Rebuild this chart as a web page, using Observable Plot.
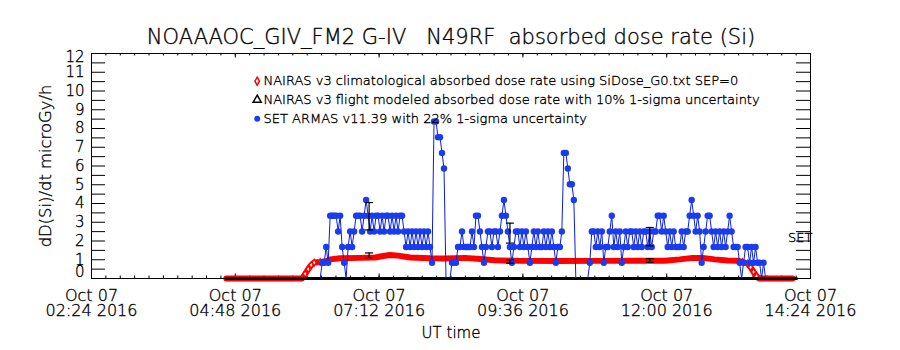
<!DOCTYPE html>
<html><head><meta charset="utf-8">
<script src="https://cdn.jsdelivr.net/npm/d3@7"></script>
<script src="https://cdn.jsdelivr.net/npm/@observablehq/plot@0.6"></script>
<style>
html,body{margin:0;padding:0;background:#fff;}
#chart svg{display:block;}
</style></head><body><div id="chart"></div>
<script>
// ---------- data ----------
const day = "2016-10-07";
const xDomain = ["02:24", "14:24"];
const xTickTimes = ["02:24", "04:48", "07:12", "09:36", "12:00", "14:24"];
const xTickLabels = ["Oct 07\n02:24 2016", "Oct 07\n04:48 2016", "Oct 07\n07:12 2016",
  "Oct 07\n09:36 2016", "Oct 07\n12:00 2016", "Oct 07\n14:24 2016"];
const yTickLabels = [0, 1, 2, 3, 4, 5, 6, 7, 8, 9, 10, 11, 12];

const titleText = "NOAAAOC_GIV_FM2 G-IV\u00a0\u00a0\u00a0N49RF\u00a0\u00a0absorbed dose rate (Si)";
const yLabel = "dD(Si)/dt microGy/h";
const xLabel = "UT time";
const legendLabels = [
  "NAIRAS v3 climatological absorbed dose rate using SiDose_G0.txt SEP=0",
  "NAIRAS v3 flight modeled absorbed dose rate with 10% 1-sigma uncertainty",
  "SET ARMAS v11.39 with 22% 1-sigma uncertainty"
];

// NAIRAS climatological (red)
const nairasTimes = ["04:39","05:55","05:58","06:01","06:04","06:07","06:13","06:19","06:23","06:33",
  "06:53","07:08","07:16","07:23","07:31","07:43","08:03","08:18","08:38","08:53",
  "09:08","09:33","10:13","10:53","11:33","11:58","12:13","12:26","12:36","12:48",
  "13:01","13:11","13:16","13:21","13:24","13:27","13:30","13:33","14:06"];
const nairasValues = [0,0,0.25,0.5,0.72,0.85,0.88,0.92,1.02,1.08,
  1.1,1.12,1.2,1.25,1.22,1.12,1.08,1.07,1.1,1.04,
  0.97,0.94,0.93,0.94,0.95,0.95,1.02,1.1,1.1,1.02,
  0.96,0.95,0.88,0.8,0.6,0.35,0.12,0,0];

// NAIRAS flight modeled (black) baseline
const modelTimes = ["04:39", "14:10"];
const modelValues = [0, 0];

// Error bars
const errTimes = ["07:02", "09:23", "11:43"];
const modelErrCenter = [1.24, 0.91, 0.96];   // 10% 1-sigma
const armasErrCenter = [3.32, 2.42, 2.23];   // 22% 1-sigma

// SET ARMAS (blue), one sample every 2 minutes from 06:13
const armasStart = "06:13";
const armasStepMin = 2;
const armasValues = [
  0,0.84,0.84,1.68,0.84,3.35,3.35,3.35,3.35,2.51,
  3.35,1.68,0.84,0,1.68,2.51,1.68,2.51,3.35,3.35,
  3.35,2.51,3.35,4.19,3.35,2.51,3.35,2.51,3.35,3.35,
  2.51,3.35,2.51,3.35,3.35,2.51,3.35,2.51,3.35,2.51,
  3.35,3.35,2.51,1.68,2.51,1.68,2.51,1.68,2.51,1.68,
  2.51,1.68,2.51,1.68,2.51,1.68,0.84,8.38,8.38,7.54,
  7.54,6.7,5.87,0,0,0,0.84,0.84,0.84,1.68,
  1.68,2.51,1.68,1.68,1.68,1.68,2.51,1.68,3.35,3.35,
  2.51,1.68,0.84,1.68,2.51,2.51,1.68,2.51,2.51,1.68,
  2.51,3.35,4.19,3.35,2.51,1.68,0.84,1.68,2.51,2.51,
  1.68,2.51,1.68,2.51,1.68,0.84,1.68,2.51,1.68,2.51,
  1.68,1.68,2.51,1.68,2.51,1.68,2.51,1.68,0.84,1.68,
  1.68,2.51,6.7,6.7,5.87,5.03,5.03,4.19,0,0,
  0,0,0,0,0,0.84,2.51,2.51,1.68,2.51,
  1.68,2.51,0.84,1.68,1.68,2.51,3.35,1.68,2.51,1.68,
  2.51,0.84,1.68,2.51,1.68,2.51,2.51,1.68,2.51,1.68,
  2.51,1.68,2.51,2.51,1.68,2.51,1.68,2.51,2.51,3.35,
  3.35,2.51,3.35,2.51,1.68,2.51,1.68,2.51,1.68,1.68,
  1.68,2.51,1.68,2.51,2.51,3.35,4.19,3.35,2.51,3.35,
  2.51,0.84,1.68,2.51,3.35,3.35,2.51,1.68,2.51,1.68,
  2.51,1.68,2.51,1.68,2.51,3.35,2.51,1.68,1.68,1.68,
  0.84,0,0.84,1.68,1.68,0.84,1.68,0.84,1.68,0.84,
  0.84,0,0.84,0
];

// ---------- build ----------
const T = s => new Date(`${day}T${s}:00Z`);
const red = nairasTimes.map((t, i) => ({t: T(t), v: nairasValues[i]}));
const model = modelTimes.map((t, i) => ({t: T(t), v: modelValues[i]}));
const t0 = T(armasStart);
const armas = armasValues.map((v, i) => ({t: d3.utcMinute.offset(t0, i * armasStepMin), v}));
const errs = errTimes.map((t, i) => ({t: T(t), a: armasErrCenter[i], m: modelErrCenter[i]}));
const bars = [
  ...errs.map(d => ({t: d.t, lo: d.a * 0.78, hi: d.a * 1.22})),
  ...errs.map(d => ({t: d.t, lo: d.m * 0.9, hi: d.m * 1.1}))
];
const caps = bars.flatMap(b => [b.lo, b.hi].map(y => ({
  x1: new Date(+b.t - 4 * 60000), x2: new Date(+b.t + 4 * 60000), y})));

const W = 900, H = 350, mL = 91, mR = 90, mT = 53, mB = 72;
const FW = W - mL - mR, FH = H - mT - mB;
const xMin = T(xDomain[0]), xMax = T(xDomain[1]);
const majorTicks = xTickTimes.map(T);
const minorTicks = d3.range(0, 51).map(i => new Date(+xMin + i * 14.4 * 60000));
const yMinor = d3.range(0, 25).map(i => i * 0.5);

const FONT = "DejaVu Sans";
const BLUE = "#1a3cf0";
const txt = {fontWeight: 200, lineAnchor: "middle", fill: "black", stroke: "black", strokeWidth: 0.35};

const chart = Plot.plot({
  width: W, height: H,
  marginLeft: mL, marginRight: mR, marginTop: mT, marginBottom: mB,
  style: {fontFamily: FONT, background: "white", color: "black"},
  x: {type: "utc", domain: [xMin, xMax], axis: null},
  y: {domain: [0, 12], axis: null},
  marks: [
    // ticks (inward, IDL style)
    Plot.tickX(minorTicks, {x: d => d, insetTop: FH - 2.5, stroke: "black"}),
    Plot.tickX(majorTicks, {x: d => d, insetTop: FH - 4.5, stroke: "black"}),
    Plot.tickX(minorTicks, {x: d => d, insetBottom: FH - 2.5, stroke: "black"}),
    Plot.tickX(majorTicks, {x: d => d, insetBottom: FH - 4.5, stroke: "black"}),
    Plot.tickY(yMinor, {y: d => d, insetRight: FW - 14, stroke: "black"}),
    Plot.tickY(yMinor, {y: d => d, insetLeft: FW - 14, stroke: "black"}),
    // data
    Plot.line(red, {x: "t", y: "v", stroke: "#ff0000", strokeWidth: 6}),
    Plot.dot(red.filter(d => d.v > 0 && d.v < 0.9), {x: "t", y: "v", symbol: "diamond", r: 2, stroke: "#ff0000", strokeWidth: 1.3, fill: "white"}),
    Plot.line(model, {x: "t", y: "v", stroke: "black", strokeWidth: 3}),
    Plot.line(armas, {x: "t", y: "v", stroke: "#0a20d0", strokeWidth: 1}),
    Plot.dot(armas.filter(d => d.v > 0), {x: "t", y: "v", r: 3.2, fill: BLUE}),
    Plot.ruleX(bars, {x: "t", y1: "lo", y2: "hi", stroke: "black", strokeWidth: 1.2}),
    Plot.link(caps, {x1: "x1", x2: "x2", y1: "y", y2: "y", stroke: "black", strokeWidth: 1.2}),
    Plot.frame({stroke: "black"}),
    // axis text
    Plot.text(xTickTimes, {...txt, x: d => T(d), text: (d, i) => xTickLabels[i], frameAnchor: "bottom", dy: 25, lineHeight: 0.92, fontSize: 16}),
    Plot.text(yTickLabels.filter(d => d > 0 && d < 12), {...txt, y: d => d, text: d => String(d), frameAnchor: "left", dx: -7, textAnchor: "end", fontSize: 15}),
    Plot.text(yTickLabels.filter(d => d === 0), {...txt, y: d => d, text: d => String(d), frameAnchor: "left", dx: -7, dy: -6, textAnchor: "end", fontSize: 15}),
    Plot.text(yTickLabels.filter(d => d === 12), {...txt, y: d => d, text: d => String(d), frameAnchor: "left", dx: -7, dy: 3.5, textAnchor: "end", fontSize: 15}),
    Plot.text([yLabel], {...txt, frameAnchor: "left", dx: -46, rotate: -90, textAnchor: "middle", fontSize: 16.4}),
    Plot.text([xLabel], {...txt, frameAnchor: "bottom", dy: 55, fontSize: 15}),
    Plot.text([titleText], {...txt, frameAnchor: "top", dy: -16, fontSize: 21}),
    Plot.text(["SET"], {...txt, frameAnchor: "top-right", dx: 2, dy: 184, textAnchor: "end", fontSize: 13}),
    // legend
    Plot.dot([0], {frameAnchor: "top-left", dx: 165.7, dy: 27.7, symbol: "diamond", r: 2.4, stroke: "#ff0000", strokeWidth: 1.5, fill: "white"}),
    Plot.dot([0], {frameAnchor: "top-left", dx: 165.7, dy: 46.3, symbol: "triangle", r: 3, stroke: "black", strokeWidth: 1.5, fill: "white"}),
    Plot.dot([0], {frameAnchor: "top-left", dx: 165.7, dy: 65.3, r: 3, fill: BLUE}),
    Plot.text([legendLabels[0]], {...txt, frameAnchor: "top-left", dx: 172, dy: 27.7, textAnchor: "start", fontSize: 13}),
    Plot.text([legendLabels[1]], {...txt, frameAnchor: "top-left", dx: 172, dy: 46.3, textAnchor: "start", fontSize: 13}),
    Plot.text([legendLabels[2]], {...txt, frameAnchor: "top-left", dx: 172, dy: 65.3, textAnchor: "start", fontSize: 13})
  ]
});
document.getElementById("chart").appendChild(chart);
</script></body></html>
